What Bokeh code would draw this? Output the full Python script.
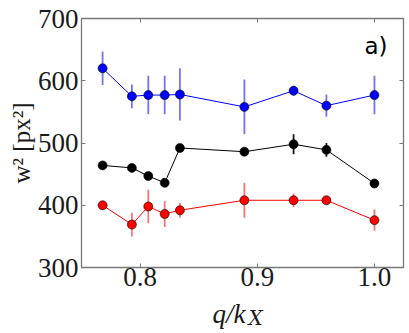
import numpy as np
from bokeh.plotting import figure
from bokeh.layouts import column
from bokeh.models import (ColumnDataSource, Label, LinearAxis, FixedTicker,
                          Range1d, PrintfTickFormatter)
from bokeh.embed import file_html
from bokeh.resources import INLINE

# ---- data ----
q = [0.768, 0.793, 0.807, 0.821, 0.834, 0.889, 0.931, 0.959, 1.000]
blue_w2 = [620, 575, 577, 577, 578, 558, 584, 560, 577]
blue_err = [27, 19, 31, 31, 42, 44, 8, 18, 31]
black_w2 = [464, 460, 447, 436, 492, 486, 498, 489, 435]
black_err = [5, 2, 2, 2, 2, 2, 16, 11, 3]
red_w2 = [400, 369, 398, 386, 392, 408, 408, 408, 376]
red_err = [7, 19, 27, 21, 12, 28, 11, 3, 17]
x_ticks = [0.8, 0.9, 1.0]
y_ticks = [300, 400, 500, 600, 700]
y_label = "w² [px²]"

FRAME = "#777777"
TXT = "#1a1a1a"
SERIF = "Liberation Serif"

W = 405
MAIN_H = 298
XLAB_H = 32

p = figure(width=W, height=MAIN_H, output_backend="svg",
           toolbar_location=None,
           x_range=Range1d(0.750, 1.0248), y_range=Range1d(300, 700),
           min_border_left=81, min_border_right=2, min_border_top=18,
           min_border_bottom=31)
p.background_fill_color = "white"
p.border_fill_color = "white"
p.grid.visible = False
p.outline_line_color = FRAME
p.outline_line_width = 1.3


def style_axis(ax, labels=True):
    ax.axis_line_color = None
    ax.major_tick_in = 4
    ax.major_tick_out = 0
    ax.minor_tick_line_color = None
    ax.major_tick_line_color = FRAME
    ax.major_tick_line_width = 1
    if labels:
        ax.major_label_text_font = SERIF
        ax.major_label_text_font_size = "27px"
        ax.major_label_text_color = TXT
    else:
        ax.major_label_text_color = None
        ax.major_label_text_font_size = "1px"
        ax.major_label_standoff = 0


p.xaxis.ticker = FixedTicker(ticks=x_ticks)
p.yaxis.ticker = FixedTicker(ticks=y_ticks)
p.xaxis.formatter = PrintfTickFormatter(format="%.1f")
p.xaxis.major_label_standoff = 0
p.yaxis.major_label_standoff = 3
style_axis(p.xaxis[0])
style_axis(p.yaxis[0])

p.yaxis.axis_label = y_label
p.yaxis.axis_label_text_font = SERIF
p.yaxis.axis_label_text_font_style = "normal"
p.yaxis.axis_label_text_font_size = "25px"
p.yaxis.axis_label_text_color = TXT
p.yaxis.axis_label_standoff = 0

top = LinearAxis(ticker=FixedTicker(ticks=x_ticks))
right = LinearAxis(ticker=FixedTicker(ticks=y_ticks))
style_axis(top, labels=False)
style_axis(right, labels=False)
p.add_layout(top, "above")
p.add_layout(right, "right")


def series(y, err, color, bar_color, bar_alpha):
    y = np.array(y, dtype=float)
    e = np.array(err, dtype=float)
    src = ColumnDataSource(dict(x=q, y=y, lo=y - e, hi=y + e))
    p.segment(x0="x", y0="lo", x1="x", y1="hi", source=src,
              line_color=bar_color, line_alpha=bar_alpha, line_width=1.8)
    p.line("x", "y", source=src, line_color=color, line_width=1)
    p.scatter("x", "y", source=src, size=9, fill_color=color,
              line_color="black", line_width=0.6)


series(blue_w2, blue_err, "#0000ff", "#0000ff", 0.55)
series(black_w2, black_err, "black", "black", 0.9)
series(red_w2, red_err, "#ff0000", "#ff0000", 0.55)

# panel tag
p.add_layout(Label(x=283, y=222, x_units="screen", y_units="screen",
                   text="a)", text_font="DejaVu Sans", text_font_size="23px",
                   text_color="black", text_align="left",
                   text_baseline="middle"))

# ---- x axis label q/k_X in a strip below the plot ----
# (the strip's frame is aligned with the main frame, so x is frame-relative)
xlab = figure(width=W, height=XLAB_H, output_backend="svg",
              toolbar_location=None, x_axis_type=None, y_axis_type=None,
              x_range=Range1d(0, 1), y_range=Range1d(0, 1),
              min_border=0, min_border_left=0, min_border_right=0,
              min_border_top=0, min_border_bottom=0)
xlab.outline_line_color = None
xlab.grid.visible = False
xlab.background_fill_color = "white"
xlab.border_fill_color = "white"
xlab.add_layout(Label(x=131, y=16.5, x_units="screen", y_units="screen",
                      text="q/k", text_font=SERIF, text_font_style="italic",
                      text_font_size="27px", text_color=TXT,
                      text_align="left", text_baseline="middle"))
xlab.add_layout(Label(x=167, y=13, x_units="screen", y_units="screen",
                      text="X", text_font="DejaVu Serif",
                      text_font_style="italic", text_font_size="20px",
                      text_color=TXT, text_align="left",
                      text_baseline="middle"))

layout = column(p, xlab, spacing=0)

open("out.html", "w").write(file_html(layout, INLINE))
